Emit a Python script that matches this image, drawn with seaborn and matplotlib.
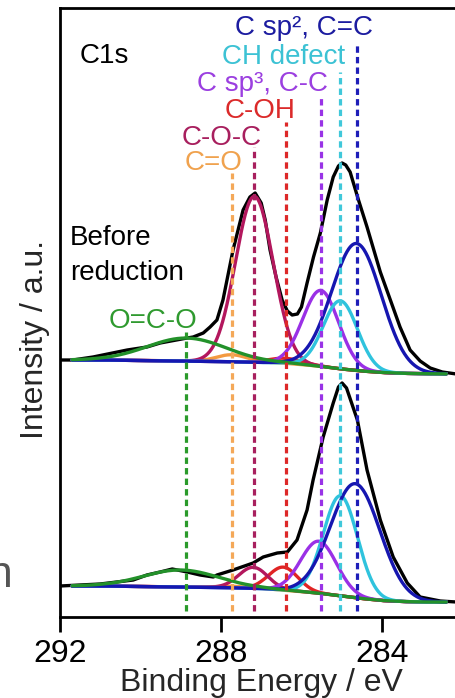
import numpy as np
import pandas as pd
import matplotlib
matplotlib.use("Agg")
import matplotlib.pyplot as plt
import seaborn as sns

# ---------------- data ----------------
# peak labels and fitted component parameters (binding energy in eV)
labels = ["O=C-O", "C=O", "C-O-C", "C-OH", "C sp³, C-C", "CH defect", "C sp², C=C"]
colors = ["#23912a", "#f39a40", "#b3175d", "#e02424", "#9a30e6", "#2fc3dd", "#1616b0"]
text_colors = ["#2f9a2f", "#f0a24e", "#a81f5e", "#db2a2a", "#9b3fe0", "#3cc2d4", "#1c1ca0"]
dash_colors = ["#2a9a2a", "#f4a858", "#a8205e", "#dd2828", "#9933e6", "#40c8da", "#1e1eb8"]
centers = [288.86, 287.73, 287.17, 286.39, 285.52, 285.03, 284.63]

# before reduction (upper trace) component heights / FWHM
before_height = [23, 7, 166, 5, 76, 68, 127]
before_fwhm = [2.3, 0.9, 1.1, 1.0, 1.05, 1.0, 1.45]
# after reduction (lower trace)
after_height = [17, 1.5, 21, 23, 52, 100, 114]
after_fwhm = [2.2, 0.9, 0.85, 0.85, 1.05, 1.0, 1.45]
after_centers = [289.0, 287.73, 287.2, 286.45, 285.57, 285.03, 284.66]

# Shirley-type backgrounds
bg_be = [292.0, 291.0, 290.0, 289.0, 288.0, 287.5, 287.0, 286.5, 286.0, 285.5, 285.0, 284.5, 284.0, 283.5, 283.0, 282.0]
bg_before = [257, 257, 256.5, 256, 255.5, 255, 254.5, 254, 252.5, 250.5, 248, 246, 244.5, 243.7, 243.3, 243]
bg_after = [31, 31, 30.5, 30, 29.5, 29, 28.5, 27, 25.5, 23.5, 21, 18.5, 16.5, 15.5, 15, 15]

# measured spectra
before_be = [292.0, 291.68, 291.18, 290.33, 289.84, 289.51, 288.84, 288.69, 288.44, 288.27, 288.10,
             287.95, 287.70, 287.45, 287.28, 287.15, 287.0, 286.9, 286.78, 286.63, 286.48, 286.35,
             286.23, 286.1, 286.0, 285.86, 285.7, 285.53, 285.36, 285.21, 285.08, 284.99, 284.9,
             284.79, 284.59, 284.37, 284.04, 283.79, 283.55, 283.30, 283.05, 282.80, 282.5, 282.15]
before_int = [257, 257, 260, 267, 270, 274, 279, 280, 284, 290, 297,
              317, 367, 407, 420, 424, 414, 397, 367, 340, 317, 306,
              302, 303, 310, 334, 360, 384, 417, 440, 451, 454, 452,
              445, 418, 390, 345, 317, 290, 267, 256, 249, 245, 243]

after_be = [292.0, 291.0, 290.18, 289.84, 289.51, 289.21, 288.84, 288.52, 288.19, 288.10, 287.70,
            287.20, 286.95, 286.60, 286.35, 286.11, 285.86, 285.71, 285.46, 285.21, 285.08, 284.99,
            284.88, 284.61, 284.37, 284.04, 283.72, 283.37, 283.05, 282.55, 282.15]
after_int = [31, 33, 37, 42, 45, 48, 45, 42, 40, 42, 47,
             54, 60, 64, 65, 77, 107, 137, 180, 214, 230, 234,
             229, 197, 147, 97, 60, 34, 20, 16, 15]

# vertical marker tops for each component
marker_top = [285, 444, 470, 495, 520, 545, 575]

# ---------------- style ----------------
sns.set_theme(style="white")
plt.rcParams["font.family"] = ["Liberation Sans", "DejaVu Sans"]

fig = plt.figure(figsize=(4.56, 6.98), dpi=100)
ax = fig.add_axes([60 / 456, (698 - 617) / 698, 402.4 / 456, 609 / 698])
ax.set_xlim(292, 282)
ax.set_ylim(0, 609)

grid = np.linspace(291.7, 282.4, 600)


def component(center, height, fwhm, bg):
    sigma = fwhm / 2.3548
    return bg + height * np.exp(-0.5 * ((grid - center) / sigma) ** 2)


bgb = np.interp(grid[::-1], bg_be[::-1], bg_before[::-1])[::-1]
bga = np.interp(grid[::-1], bg_be[::-1], bg_after[::-1])[::-1]

# measured traces
sns.lineplot(x=before_be, y=before_int, ax=ax, color="black", lw=2.4, sort=False)
sns.lineplot(x=after_be, y=after_int, ax=ax, color="black", lw=2.4, sort=False)

# fitted components; green drawn last so it lies on top
order = [1, 3, 2, 4, 5, 6, 0]
for i in order:
    yb = component(centers[i], before_height[i], before_fwhm[i], bgb)
    ya = component(after_centers[i], after_height[i], after_fwhm[i], bga)
    sns.lineplot(x=grid, y=yb, ax=ax, color=colors[i], lw=2.4, sort=False)
    sns.lineplot(x=grid, y=ya, ax=ax, color=colors[i], lw=2.4, sort=False)

# dashed position markers
for i in range(len(centers)):
    ax.vlines(centers[i], 6, marker_top[i], colors=dash_colors[i], lw=2.3,
              linestyles=(0, (2.0, 1.3)))

# peak labels (right-aligned)
label_pos = [(197, 328), (242, 170), (262, 145), (295, 118), (328, 91), (345, 64), (373, 35)]
def px_to_data(px, py):
    return 292 - (px - 60) / 40.24, 617 - py

for i, (px, py) in enumerate(label_pos):
    x, y = px_to_data(px, py)
    ax.text(x, y, labels[i], color=text_colors[i], fontsize=20, ha="right", va="baseline")

x, y = px_to_data(80, 63)
ax.text(x, y, "C1s", color="black", fontsize=20, ha="left", va="baseline")
x, y = px_to_data(70, 245)
ax.text(x, y, "Before", color="black", fontsize=20, ha="left", va="baseline")
x, y = px_to_data(70, 280)
ax.text(x, y, "reduction", color="black", fontsize=20, ha="left", va="baseline")

# axes styling
ax.set_xticks([292, 288, 284])
ax.set_xticklabels(["292", "288", "284"])
ax.set_yticks([])
ax.tick_params(axis="x", direction="out", length=11, width=2, labelsize=23, pad=5,
               bottom=True, colors="black")
for s in ax.spines.values():
    s.set_linewidth(2)
    s.set_color("black")
ax.set_xlabel("Binding Energy / eV", fontsize=23, labelpad=-1)
ax.set_ylabel("Intensity / a.u.", fontsize=23)
ax.yaxis.set_label_coords((50 - 60) / 402.4, 0.455)

# fragment of a neighbouring caption at the left edge
fig.text(13 / 456, (698 - 587) / 698, "n", fontsize=32, color="#555555", ha="right", va="baseline")

fig.savefig("out.png", dpi=100)
